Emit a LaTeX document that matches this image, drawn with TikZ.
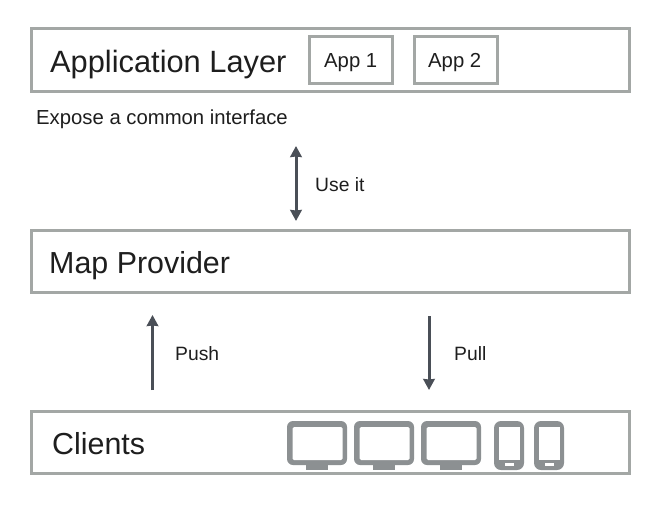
\documentclass[tikz,border=0pt]{standalone}
\usepackage{fontspec}
\setmainfont{Liberation Sans}
\usetikzlibrary{arrows.meta}
\definecolor{boxgray}{HTML}{A3A7A5}
\definecolor{devgray}{HTML}{8C9092}
\definecolor{arrowdark}{HTML}{4A4F57}
\definecolor{txt}{HTML}{1E1E1E}
\tikzset{
  layerbox/.style={draw=boxgray,line width=3pt,fill=white,anchor=north west,inner sep=0pt,outer sep=0pt,minimum width=598pt,minimum height=62.5pt},
  appbox/.style={draw=boxgray,line width=3pt,fill=white,inner sep=0pt,outer sep=0pt,minimum width=83pt,minimum height=47pt},
  apptext/.style={anchor=base west,inner sep=0pt,text=txt,font=\fontsize{20.3}{24}\selectfont},
  bigtext/.style={anchor=base west,inner sep=0pt,text=txt,font=\fontsize{30.4}{36}\selectfont},
  smalltext/.style={anchor=base west,inner sep=0pt,text=txt,font=\fontsize{19.3}{23}\selectfont},
  flow/.style={draw=arrowdark,line width=3pt,-{Stealth[length=11pt,width=11.5pt,inset=0.5pt]}},
  flowboth/.style={draw=arrowdark,line width=3pt,{Stealth[length=11pt,width=11.5pt,inset=0.5pt]}-{Stealth[length=11pt,width=11.5pt,inset=0.5pt]}},
  devfill/.style={fill=devgray,draw=none},
}
\begin{document}
\begin{tikzpicture}[x=1pt,y=-1pt]
\useasboundingbox (0,0) rectangle (660,508);
\fill[white] (0,0) rectangle (660,508);
\node[layerbox] (applayer) at (31.5,29) {};
\node[layerbox] (mapprov) at (31.5,230) {};
\node[layerbox] (clients) at (31.5,411) {};
\node[appbox] (appa) at (350.5,60.5) {};
\node[appbox] (appb) at (455.5,60.5) {};
\node[apptext] (appatext) at (324,68) {App 1};
\node[apptext] (appbtext) at (428,68) {App 2};
\node[bigtext,font=\fontsize{30.8}{36}\selectfont] (applabel) at (50,73) {Application Layer};
\node[bigtext] (maplabel) at (49,273) {Map Provider};
\node[bigtext] (clientlabel) at (52,454) {Clients};
\node[smalltext,font=\fontsize{20.3}{24}\selectfont] (expose) at (36,124) {Expose a common interface};
\node[smalltext] (useit) at (315,191) {Use it};
\node[smalltext] (push) at (175,360) {Push};
\node[smalltext] (pull) at (454,360) {Pull};
\coordinate (usetop) at (296,146);
\coordinate (usebot) at (296,221);
\coordinate (pushtop) at (152.5,315);
\coordinate (pushbot) at (152.5,390);
\coordinate (pulltop) at (429,316);
\coordinate (pullbot) at (429,390);
\draw[flowboth] (usetop) -- (usebot);
\draw[flow] (pushbot) -- (pushtop);
\draw[flow] (pulltop) -- (pullbot);
% monitors
\foreach \mx in {287,354,421}{
  \fill[devfill] (\mx+19,462) rectangle (\mx+41,470);
  \fill[devfill,rounded corners=6pt] (\mx,421) rectangle (\mx+60,465);
  \fill[white,rounded corners=1.5pt] (\mx+5.5,427) rectangle (\mx+55.5,460);
}
% phones
\foreach \px in {494,534}{
  \fill[devfill,rounded corners=7pt] (\px,421) rectangle (\px+30,470);
  \fill[white] (\px+4.5,427) rectangle (\px+25.5,460);
  \fill[white] (\px+11,463) rectangle (\px+20,466);
}
\end{tikzpicture}
\end{document}
